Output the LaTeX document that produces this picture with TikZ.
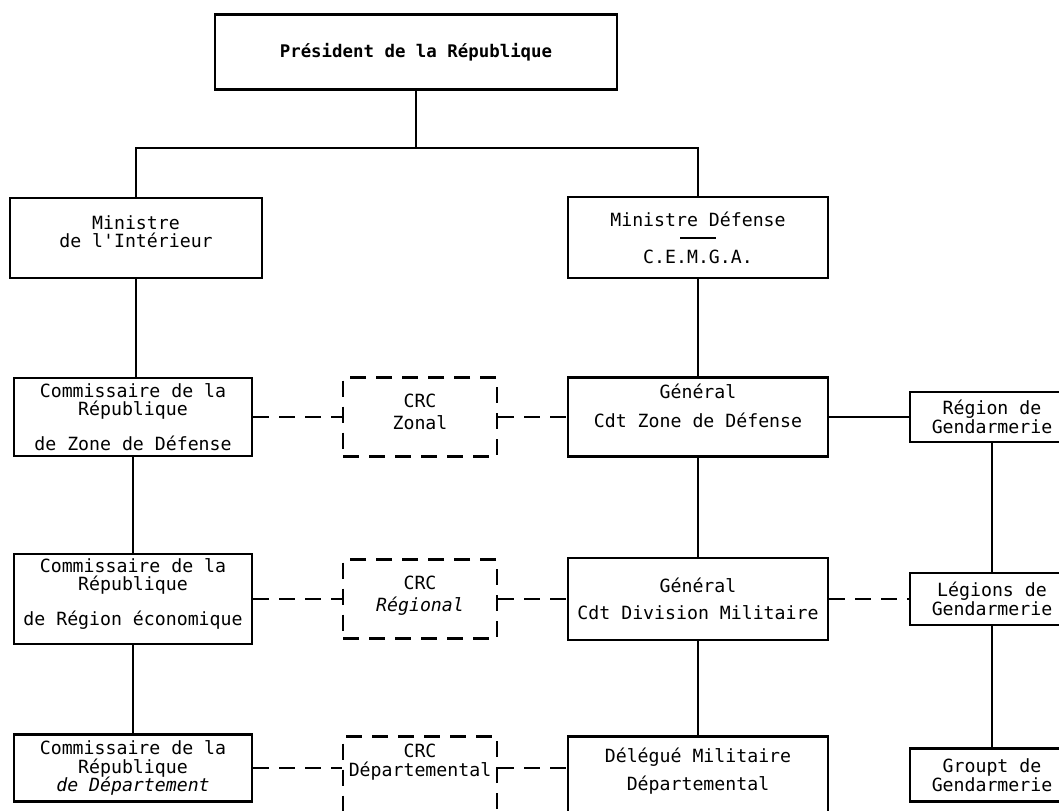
\documentclass[tikz,border=0pt]{standalone}
\usepackage{fontspec}
\setmonofont{DejaVu Sans Mono}
\usepackage{tikz}

\tikzset{
  box/.style={rectangle, draw, line width=1.3pt, align=center, inner sep=2pt,
    font=\ttfamily\fontsize{9.1}{9.3}\selectfont},
  topbox/.style={box, font=\ttfamily\bfseries\fontsize{8.7}{9}\selectfont},
  crcbox/.style={box, dash pattern=on 8pt off 5pt},
  link/.style={line width=1.3pt},
  dlink/.style={line width=1.3pt, dash pattern=on 8pt off 5pt}
}

\begin{document}
\begin{tikzpicture}[x=0.5pt, y=-0.5pt]
\useasboundingbox (0,0) rectangle (1059,810);
\clip (0,0) rectangle (1059,810);

\node[topbox, minimum width=201pt, minimum height=37.5pt] (pres) at (416,52) {Président de la République};
\coordinate (split) at (416,148);

\node[box, minimum width=126pt, minimum height=40pt] (minint) at (136,238) {Ministre\\de l'Intérieur\\[-3pt]\mbox{}};
\node[box, minimum width=130pt, minimum height=40.5pt] (mindef) at (698,237.5) {Ministre Défense\\[-3pt]\rule{18pt}{0.6pt}\\[3pt]C.E.M.G.A.};

\node[box, minimum width=119pt, minimum height=39pt] (comzone) at (133,417) {Commissaire de la\\République\\[8pt]de Zone de Défense};
\node[crcbox, minimum width=77pt, minimum height=39.5pt] (crczone) at (420,417) {CRC\\[1.5pt]Zonal\\[-4pt]\mbox{}};
\node[box, minimum width=130pt, minimum height=39.5pt] (genzone) at (698,417) {Général\\[5pt]Cdt Zone de Défense\\[2pt]\mbox{}};
\node[box, minimum width=82pt, minimum height=25pt] (regg) at (992,417) {Région de\\Gendarmerie};

\node[box, minimum width=119pt, minimum height=40pt] (comreg) at (133,599) {Commissaire de la\\République\\[8pt]de Région économique\\[-2pt]\mbox{}};
\node[crcbox, minimum width=77pt, minimum height=39.5pt] (crcreg) at (420,599) {CRC\\[1.5pt]{\itshape Régional}\\[-4pt]\mbox{}};
\node[box, minimum width=130pt, minimum height=41pt] (genreg) at (698,599) {Général\\[4pt]Cdt Division Militaire};
\node[box, minimum width=82pt, minimum height=26pt] (legg) at (992,599) {Légions de\\Gendarmerie};

\node[box, minimum width=119pt, minimum height=33.5pt] (comdep) at (133,768) {Commissaire de la\\République\\{\itshape de Département}};
\node[crcbox, anchor=north, minimum width=77pt, inner ysep=4pt] (crcdep) at (420,735) {CRC\\Départemental\\[30pt]\mbox{}};
\node[box, anchor=north, minimum width=130pt, inner ysep=6pt] (deleg) at (698,735) {Délégué Militaire\\[4.5pt]Départemental\\[25pt]\mbox{}};
\node[box, minimum width=82pt, minimum height=26.5pt] (groupt) at (992,775) {Groupt de\\Gendarmerie};

\draw[link] (pres) -- (split);
\draw[link] (minint) |- (split) -| (mindef);
\draw[link] (minint) -- (minint |- comzone.north);
\draw[link] (comzone) -- (comreg);
\draw[link] (comreg) -- (comdep);
\draw[link] (mindef) -- (genzone);
\draw[link] (genzone) -- (genreg);
\draw[link] (genreg) -- (deleg);
\draw[link] (genzone) -- (regg);
\draw[link] (regg) -- (legg);
\draw[link] (legg) -- (groupt);

\draw[dlink] (comzone) -- (crczone);
\draw[dlink] (crczone) -- (genzone);
\draw[dlink] (comreg) -- (crcreg);
\draw[dlink] (crcreg) -- (genreg);
\draw[dlink] (genreg) -- (legg);
\draw[dlink] (comdep.east) -- (comdep.east -| crcdep.west);
\draw[dlink] (crcdep.east |- comdep.east) -- (comdep.east -| deleg.west);

\end{tikzpicture}
\end{document}
